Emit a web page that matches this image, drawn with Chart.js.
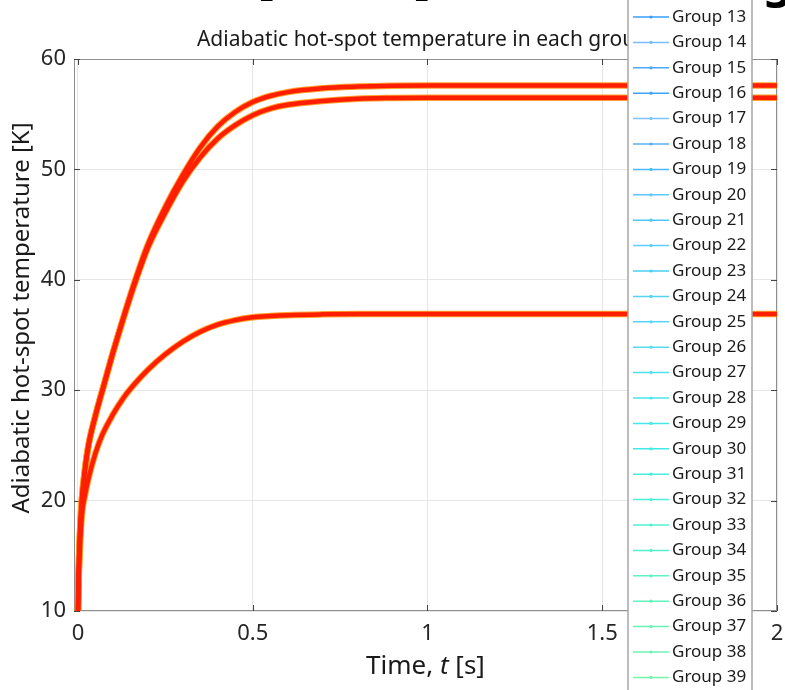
<!DOCTYPE html>
<html>
<head>
<meta charset="utf-8">
<script src="https://cdn.jsdelivr.net/npm/chart.js@4.4.1/dist/chart.umd.min.js"></script>
<style>
  html, body { margin: 0; padding: 0; background: #fff; overflow: hidden; }
  #wrap { width: 785px; height: 690px; position: relative; }
</style>
</head>
<body>
<div id="wrap"><canvas id="hotspot"></canvas></div>
<script>
// time samples [s]
const timeS = [0, 0.002, 0.005, 0.011, 0.02, 0.03, 0.05, 0.07, 0.1, 0.13, 0.163, 0.2, 0.25, 0.3, 0.35, 0.4, 0.45, 0.5, 0.55, 0.6, 0.7, 0.8, 0.9, 1.0, 1.2, 1.5, 2.0]

// hot-spot temperature of the three group bundles [K]
const tempHigh = [10, 13.5, 16.5, 20, 22.8, 25, 27.7, 30, 33.4, 36.6, 39.9, 43.2, 46.6, 49.5, 52.0, 53.9, 55.2, 56.1, 56.65, 57.0, 57.35, 57.5, 57.57, 57.6, 57.6, 57.6, 57.6]
const tempMid = [10, 13.5, 16.5, 20, 22.8, 25, 27.7, 30, 33.4, 36.5, 39.7, 42.9, 46.1, 48.9, 51.1, 52.8, 54.0, 54.9, 55.5, 55.85, 56.2, 56.4, 56.47, 56.5, 56.5, 56.5, 56.5]
const tempLow = [10, 13, 15.5, 18.7, 20.5, 22.0, 24.3, 26.0, 27.8, 29.3, 30.6, 31.85, 33.25, 34.4, 35.3, 35.95, 36.35, 36.6, 36.72, 36.8, 36.87, 36.9, 36.9, 36.9, 36.9, 36.9, 36.9]

const xTicks = [0, 0.5, 1, 1.5, 2]
const yTicks = [10, 20, 30, 40, 50, 60]

const legendLabels = ['Group 13', 'Group 14', 'Group 15', 'Group 16', 'Group 17', 'Group 18', 'Group 19', 'Group 20', 'Group 21', 'Group 22', 'Group 23', 'Group 24', 'Group 25', 'Group 26', 'Group 27', 'Group 28', 'Group 29', 'Group 30', 'Group 31', 'Group 32', 'Group 33', 'Group 34', 'Group 35', 'Group 36', 'Group 37', 'Group 38', 'Group 39']
const legendColors = ['#3b9cff', '#78bdff', '#47a9ff', '#3fa4f8', '#7cc4ff', '#58b0ee', '#4cb9ff', '#5cc6ff', '#4fc6f5', '#5ccdff', '#48cff0', '#55d3f2', '#56d6fa', '#55dcf0', '#4fe0ee', '#48e6ea', '#45e8e8', '#40eae6', '#45ede0', '#4eeedc', '#4ff0d6', '#55f0cc', '#5ef2c4', '#63f3bd', '#68f4b6', '#6ef5b0', '#73f5aa']

const FONT = '"Noto Sans", "Open Sans", sans-serif'

function pts(ys) {
    return timeS.map((t, i) => ({ x: t, y: ys[i] }))
}

function bundle(ys) {
    return [
        { data: pts(ys), borderColor: '#ff1e00', borderWidth: 4.5, order: 0 },
        { data: pts(ys), borderColor: 'rgba(255,140,0,0.8)', borderWidth: 6.5, order: 1 },
    ]
}

// axes box, inward tick marks, texts and the overlapping legend box
const decor = {
    id: 'decor',
    beforeDatasetsDraw(chart) {
        const { ctx, chartArea: a } = chart
        ctx.save()
        ctx.strokeStyle = '#8f8f8f'
        ctx.lineWidth = 1
        ctx.strokeRect(a.left + 0.5, a.top + 0.5, a.right - a.left - 1, a.bottom - a.top - 1)
        ctx.strokeStyle = '#444'
        ctx.beginPath()
        xTicks.forEach((v) => {
            const px = Math.round(chart.scales.x.getPixelForValue(v)) + 0.5
            ctx.moveTo(px, a.bottom); ctx.lineTo(px, a.bottom - 6)
            ctx.moveTo(px, a.top); ctx.lineTo(px, a.top + 6)
        })
        yTicks.forEach((v) => {
            const py = Math.round(chart.scales.y.getPixelForValue(v)) + 0.5
            ctx.moveTo(a.left, py); ctx.lineTo(a.left + 6, py)
            ctx.moveTo(a.right, py); ctx.lineTo(a.right - 6, py)
        })
        ctx.stroke()
        ctx.restore()
    },
    afterDraw(chart) {
        const { ctx, chartArea: a } = chart
        const cx = (a.left + a.right) / 2
        ctx.save()
        ctx.fillStyle = '#000'

        // tail of the figure heading above the axes
        ctx.textBaseline = 'alphabetic'
        ctx.textAlign = 'left'
        ctx.font = 'bold 28px ' + FONT
        ctx.fillText('_', 261, -4)
        ctx.fillText('_', 416, -4)
        ctx.font = 'bold 46px ' + FONT
        ctx.fillText('g', 763, -3)

        ctx.fillStyle = '#1a1a1a'
        ctx.font = '21px ' + FONT
        ctx.textAlign = 'center'
        ctx.textBaseline = 'middle'
        ctx.fillText('Adiabatic hot-spot temperature in each group', cx - 3, 40)

        // x axis title with italic t
        const parts = [['Time, ', ''], ['t', 'italic '], [' [s]', '']]
        let w = 0
        parts.forEach(([s, st]) => { ctx.font = st + '26px ' + FONT; w += ctx.measureText(s).width })
        let x = cx - w / 2
        ctx.textAlign = 'left'
        parts.forEach(([s, st]) => {
            ctx.font = st + '26px ' + FONT
            ctx.fillText(s, x, 667)
            x += ctx.measureText(s).width
        })

        ctx.save()
        ctx.translate(22, 318)
        ctx.rotate(-Math.PI / 2)
        ctx.textAlign = 'center'
        ctx.font = '24px ' + FONT
        ctx.fillText('Adiabatic hot-spot temperature [K]', 0, 0)
        ctx.restore()

        // legend
        const L = 628, R = 752
        ctx.fillStyle = '#fff'
        ctx.fillRect(L, -10, R - L, 720)
        ctx.strokeStyle = '#a6a6a6'
        ctx.lineWidth = 1.5
        ctx.strokeRect(L, -10, R - L, 720)
        ctx.font = '17px ' + FONT
        ctx.textBaseline = 'middle'
        legendLabels.forEach((lab, i) => {
            const y = 17 + i * 25.4
            ctx.strokeStyle = legendColors[i]
            ctx.lineWidth = 1.5
            ctx.beginPath(); ctx.moveTo(633, y); ctx.lineTo(669, y); ctx.stroke()
            ctx.fillStyle = legendColors[i]
            ctx.beginPath(); ctx.arc(651, y, 1.6, 0, Math.PI * 2); ctx.fill()
            ctx.fillStyle = '#1a1a1a'
            ctx.fillText(lab, 672, y)
        })
        ctx.restore()
    },
}

new Chart(document.getElementById('hotspot'), {
    type: 'line',
    data: {
        datasets: [...bundle(tempHigh), ...bundle(tempMid), ...bundle(tempLow)],
    },
    options: {
        responsive: true,
        maintainAspectRatio: false,
        animation: false,
        layout: { padding: { top: 59, right: 8, left: 0, bottom: 0 } },
        elements: {
            point: { radius: 0 },
            line: { cubicInterpolationMode: 'monotone' },
        },
        plugins: { legend: { display: false }, tooltip: { enabled: false }, title: { display: false } },
        scales: {
            x: {
                type: 'linear',
                min: -0.0114,
                max: 2,
                afterBuildTicks: (s) => { s.ticks = xTicks.map((v) => ({ value: v })) },
                afterFit: (s) => { s.height = 79; s.paddingLeft = 0; s.paddingRight = 0 },
                grid: { color: '#e6e6e6', drawTicks: false },
                border: { display: false },
                ticks: {
                    padding: 10,
                    color: '#262626',
                    font: { family: FONT, size: 22 },
                    callback: (v) => String(v),
                },
            },
            y: {
                min: 10,
                max: 60,
                afterBuildTicks: (s) => { s.ticks = yTicks.map((v) => ({ value: v })) },
                afterFit: (s) => { s.width = 74; s.paddingTop = 0; s.paddingBottom = 0 },
                grid: { color: '#e6e6e6', drawTicks: false },
                border: { display: false },
                ticks: {
                    padding: 8,
                    color: '#262626',
                    font: { family: FONT, size: 22 },
                },
            },
        },
    },
    plugins: [decor],
})
</script>
</body>
</html>
